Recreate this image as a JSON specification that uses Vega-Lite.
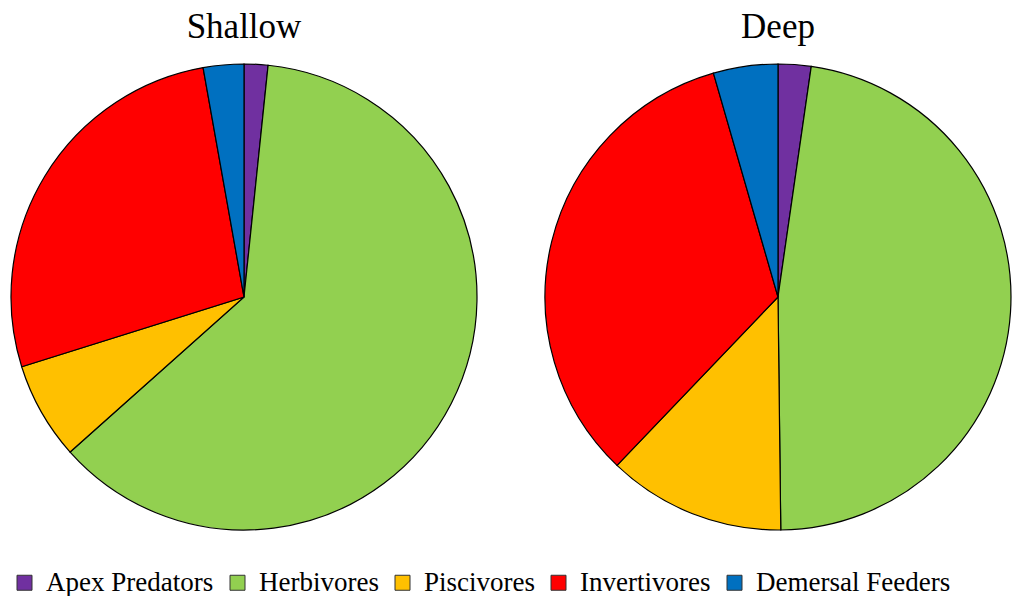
{
  "$schema": "https://vega.github.io/schema/vega-lite/v6.json",
  "padding": {"left": 8, "top": 10, "right": 0, "bottom": 0},
  "background": "white",
  "data": {"values": [
    {"site": "Shallow", "group": "Apex Predators", "idx": 1, "value": 1.65},
    {"site": "Shallow", "group": "Herbivores", "idx": 2, "value": 61.76},
    {"site": "Shallow", "group": "Piscivores", "idx": 3, "value": 6.75},
    {"site": "Shallow", "group": "Invertivores", "idx": 4, "value": 27.03},
    {"site": "Shallow", "group": "Demersal Feeders", "idx": 5, "value": 2.81},
    {"site": "Deep", "group": "Apex Predators", "idx": 1, "value": 2.28},
    {"site": "Deep", "group": "Herbivores", "idx": 2, "value": 47.53},
    {"site": "Deep", "group": "Piscivores", "idx": 3, "value": 12.33},
    {"site": "Deep", "group": "Invertivores", "idx": 4, "value": 33.39},
    {"site": "Deep", "group": "Demersal Feeders", "idx": 5, "value": 4.47}
  ]},
  "facet": {
    "column": {
      "field": "site",
      "type": "nominal",
      "sort": ["Shallow", "Deep"],
      "title": null,
      "header": {"labelFont": "Liberation Serif", "labelFontSize": 35, "labelColor": "black", "labelPadding": 16}
    }
  },
  "spacing": 62,
  "spec": {
    "width": 466,
    "height": 466,
    "mark": {"type": "arc", "stroke": "black", "strokeWidth": 1.2},
    "encoding": {
      "theta": {"field": "value", "type": "quantitative", "stack": true},
      "order": {"field": "idx", "type": "quantitative"},
      "color": {
        "field": "group",
        "type": "nominal",
        "scale": {
          "domain": ["Apex Predators", "Herbivores", "Piscivores", "Invertivores", "Demersal Feeders"],
          "range": ["#7030A0", "#92D050", "#FFC000", "#FF0000", "#0070C0"]
        },
        "legend": {
          "orient": "bottom",
          "direction": "horizontal",
          "title": null,
          "labelFont": "Liberation Serif",
          "labelFontSize": 27,
          "labelColor": "black",
          "symbolType": "square",
          "symbolSize": 225,
          "symbolStrokeColor": "#333333",
          "symbolStrokeWidth": 1,
          "labelOffset": 8,
          "columnPadding": 10,
          "offset": 36,
          "padding": 0,
          "labelLimit": 400
        }
      }
    }
  },
  "config": {
    "view": {"stroke": null}
  }
}
